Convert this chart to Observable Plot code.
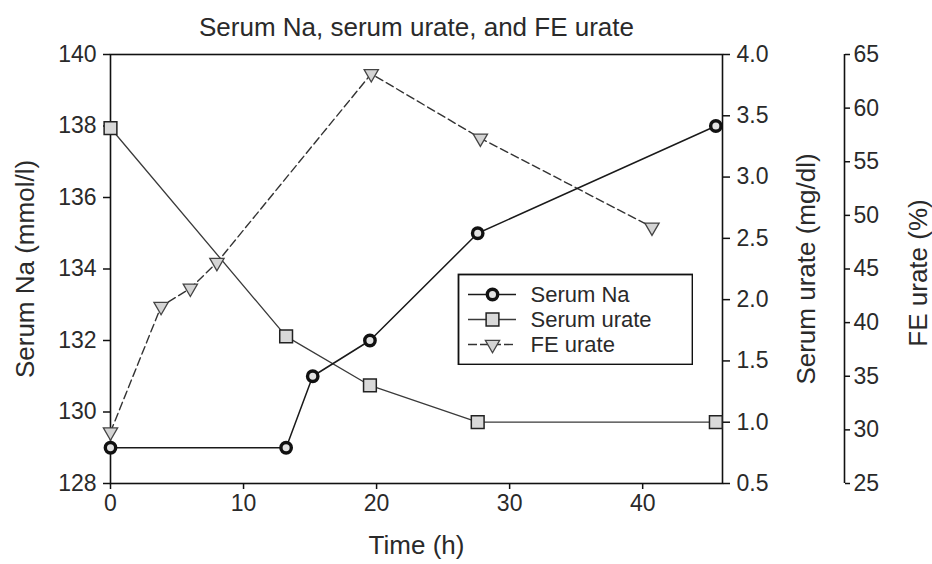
<!DOCTYPE html>
<html><head><meta charset="utf-8">
<script src="https://cdn.jsdelivr.net/npm/d3@7"></script>
<script src="https://cdn.jsdelivr.net/npm/@observablehq/plot@0.6"></script>
<style>
html,body{margin:0;padding:0;background:#fff;}
#wrap{position:relative;width:932px;height:564px;}
#wrap svg{display:block;}
#legend{position:absolute;left:457px;top:273px;}
</style></head><body><div id="wrap"><div id="chart"></div><div id="legend"></div></div>
<script>
// ---- text ----
const title = "Serum Na, serum urate, and FE urate";
const xLabel = "Time (h)";
const naLabel = "Serum Na (mmol/l)";
const urateLabel = "Serum urate (mg/dl)";
const feLabel = "FE urate (%)";
const seriesNames = ["Serum Na", "Serum urate", "FE urate"];

// ---- data ----
const naTime = [0, 13.2, 15.2, 19.5, 27.6, 45.5];
const naValues = [129, 129, 131, 132, 135, 138];
const urateTime = [0, 13.2, 19.5, 27.6, 45.5];
const urateValues = [3.4, 1.7, 1.3, 1.0, 1.0];
const feTime = [0, 3.8, 6.0, 8.0, 19.6, 27.8, 40.7];
const feValues = [29.8, 41.5, 43.2, 45.6, 63.2, 57.2, 48.9];

// ---- axes ----
const xDomain = [0, 46];
const naDomain = [128, 140];
const urateDomain = [0.5, 4.0];
const feDomain = [25, 65];
const xTicks = [0, 10, 20, 30, 40];
const naTicks = [128, 130, 132, 134, 136, 138, 140];
const urateTicks = [0.5, 1.0, 1.5, 2.0, 2.5, 3.0, 3.5, 4.0];
const feTicks = [25, 30, 35, 40, 45, 50, 55, 60, 65];

const urateToNa = d3.scaleLinear().domain(urateDomain).range(naDomain);
const feToNa = d3.scaleLinear().domain(feDomain).range(naDomain);

const na = naTime.map((t, i) => ({t, v: naValues[i]}));
const urate = urateTime.map((t, i) => ({t, v: urateToNa(urateValues[i])}));
const fe = feTime.map((t, i) => ({t, v: feToNa(feValues[i])}));

const triangleDown = {
  draw(context, size) {
    const y = Math.sqrt(size / (Math.sqrt(3) * 3));
    context.moveTo(0, y * 2);
    context.lineTo(-Math.sqrt(3) * y, -y);
    context.lineTo(Math.sqrt(3) * y, -y);
    context.closePath();
  }
};

const ink = "#111";
const textColor = "#2a2a2a";
const font = "'Liberation Sans', Arial, Helvetica, sans-serif";

const styles = {
  na: {line: {stroke: "#1a1a1a", strokeWidth: 1.5}, dot: {symbol: "circle", r: 5.2, fill: "#e2e2e2", stroke: "#111", strokeWidth: 3.4}},
  urate: {line: {stroke: "#3a3a3a", strokeWidth: 1.3}, dot: {symbol: "square", r: 7.2, fill: "#d9d9d9", stroke: "#222", strokeWidth: 1.5}},
  fe: {line: {stroke: "#333", strokeWidth: 1.4, strokeDasharray: "8,4"}, dot: {symbol: triangleDown, r: 5.3, fill: "#d4d4d4", stroke: "#444", strokeWidth: 1.3}}
};

const main = Plot.plot({
  width: 932, height: 564,
  marginLeft: 110, marginRight: 210, marginTop: 54, marginBottom: 81,
  style: {fontFamily: font, fontSize: "23px", color: textColor, background: "#fff", overflow: "visible"},
  x: {domain: xDomain},
  y: {domain: naDomain},
  marks: [
    Plot.frame({stroke: ink, strokeWidth: 1.6}),
    Plot.ruleX([xDomain[1]], {dx: 122, stroke: ink, strokeWidth: 1.6}),
    Plot.axisX({ticks: xTicks, tickSize: 6, tickPadding: 5, label: null, stroke: ink, strokeWidth: 1.5}),
    Plot.axisY({anchor: "left", ticks: naTicks, tickSize: 7, tickPadding: 7, label: null, stroke: ink, strokeWidth: 1.5}),
    Plot.axisY({anchor: "right", ticks: urateTicks.map(urateToNa), tickFormat: d => urateToNa.invert(d).toFixed(1), tickSize: 7, tickPadding: 7, label: null, stroke: ink, strokeWidth: 1.5}),
    Plot.axisY({anchor: "right", dx: 122, ticks: feTicks.map(feToNa), tickFormat: d => String(Math.round(feToNa.invert(d))), tickSize: 5, tickPadding: 4, label: null, stroke: ink, strokeWidth: 1.5}),
    Plot.line(fe, {x: "t", y: "v", ...styles.fe.line}),
    Plot.line(urate, {x: "t", y: "v", ...styles.urate.line}),
    Plot.line(na, {x: "t", y: "v", ...styles.na.line}),
    Plot.dot(fe, {x: "t", y: "v", ...styles.fe.dot}),
    Plot.dot(urate, {x: "t", y: "v", ...styles.urate.dot}),
    Plot.dot(na, {x: "t", y: "v", ...styles.na.dot}),
    Plot.text([title], {frameAnchor: "top", lineAnchor: "middle", dy: -27, fontSize: 26}),
    Plot.text([xLabel], {frameAnchor: "bottom", lineAnchor: "middle", dy: 62, fontSize: 26}),
    Plot.text([naLabel], {frameAnchor: "left", textAnchor: "middle", dx: -85, rotate: -90, fontSize: 26}),
    Plot.text([urateLabel], {frameAnchor: "right", textAnchor: "middle", dx: 84, rotate: -90, fontSize: 26}),
    Plot.text([feLabel], {frameAnchor: "right", textAnchor: "middle", dx: 196, dy: 4, rotate: -90, fontSize: 26})
  ]
});
document.getElementById("chart").appendChild(main);

const keys = ["na", "urate", "fe"];
const legend = Plot.plot({
  width: 236, height: 92, margin: 0,
  style: {fontFamily: font, fontSize: "22px", color: textColor, background: "#fff"},
  x: {domain: [0, 1], range: [11, 59], axis: null},
  y: {type: "point", padding: 0, domain: seriesNames, range: [21, 71], axis: null},
  marks: [
    Plot.frame({stroke: ink, strokeWidth: 1.8, inset: 1}),
    ...keys.map((k, i) => Plot.ruleY([seriesNames[i]], {y: d => d, x1: 0, x2: 1, ...styles[k].line, strokeDasharray: k === "fe" ? "9,3" : null})),
    ...keys.map((k, i) => Plot.dot([seriesNames[i]], {x: 0.5, y: d => d, ...styles[k].dot})),
    Plot.text(seriesNames, {y: d => d, frameAnchor: "left", dx: 73, textAnchor: "start", fontSize: 22})
  ]
});
document.getElementById("legend").appendChild(legend);
</script>
</body></html>
